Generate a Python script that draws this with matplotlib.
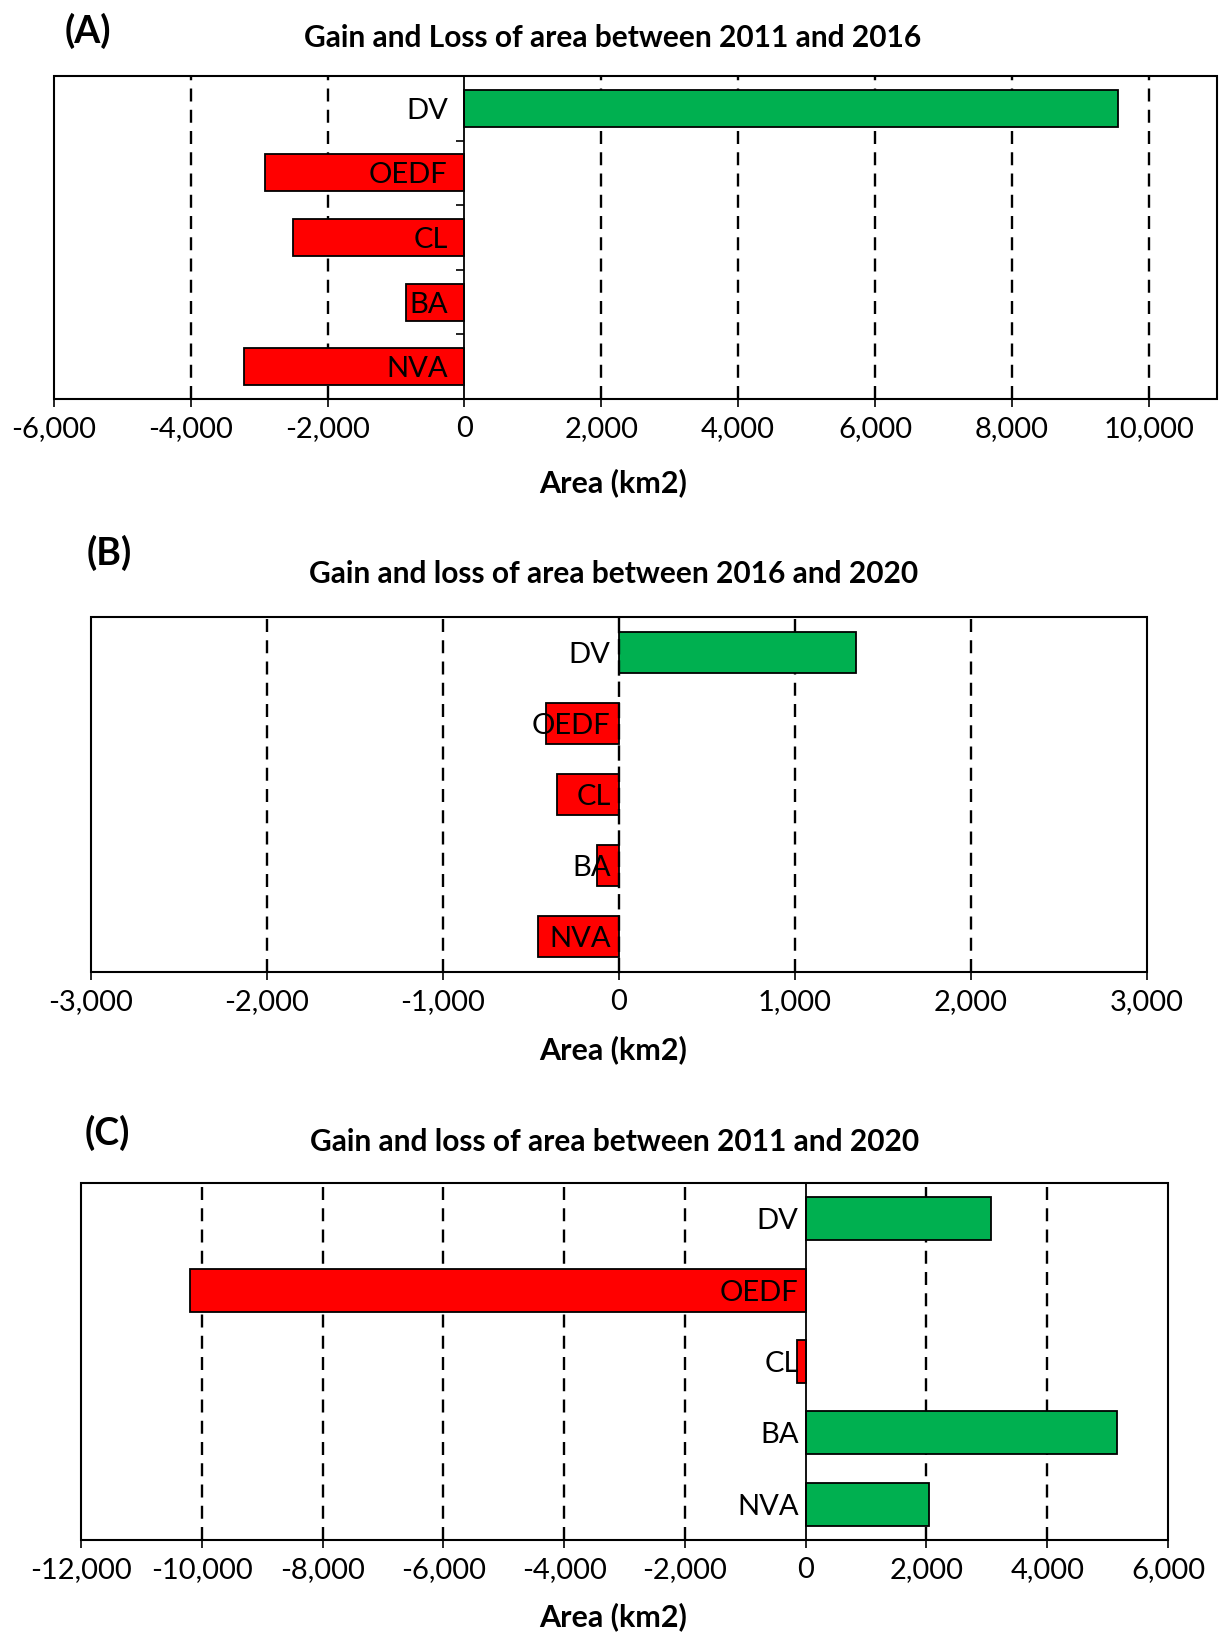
import matplotlib
matplotlib.use("Agg")
import matplotlib.pyplot as plt
from matplotlib.ticker import FuncFormatter, FixedLocator
from matplotlib.patches import Rectangle

plt.rcParams["font.family"] = ["Lato", "DejaVu Sans"]

categories = ["DV", "OEDF", "CL", "BA", "NVA"]

change_2011_2016 = [9560, -2910, -2500, -850, -3230]
change_2016_2020 = [1345, -414, -355, -124, -460]
change_2011_2020 = [3070, -10190, -140, 5160, 2050]

ticks_a = [-6000, -4000, -2000, 0, 2000, 4000, 6000, 8000, 10000]
ticks_b = [-3000, -2000, -1000, 0, 1000, 2000, 3000]
ticks_c = [-12000, -10000, -8000, -6000, -4000, -2000, 0, 2000, 4000, 6000]

GAIN = "#00B050"
LOSS = "#FF0000"
DASH = (0, (5.5, 3.5))

W, H = 1221, 1635
fig = plt.figure(figsize=(W / 100, H / 100), dpi=100)


def px_axes(left, top, right, bottom):
    return fig.add_axes([left / W, 1 - bottom / H, (right - left) / W, (bottom - top) / H])


def panel(ax, values, ticks, xlim, bar_h, label_pad, tick_marks, fs, dashed_zero=False):
    y = list(range(len(categories)))
    colors = [GAIN if v > 0 else LOSS for v in values]
    ax.barh(y, values, height=bar_h, color=colors, edgecolor="black",
            linewidth=1.3, zorder=3)
    ax.set_xlim(*xlim)
    ax.set_ylim(len(categories) - 0.5, -0.5)

    # dashed vertical grid at every major tick
    for t in ticks:
        if xlim[0] < t < xlim[1] and t != 0:
            ax.axvline(t, color="black", lw=1.7, ls=DASH, zorder=1)

    ax.xaxis.set_major_locator(FixedLocator(ticks))
    ax.xaxis.set_major_formatter(FuncFormatter(lambda v, p: f"{v:,.0f}"))
    ax.tick_params(axis="x", length=6, width=1.2, labelsize=fs, pad=6)

    # category axis sits on the zero line, labels drawn over the bars
    for s in ["left", "right", "top", "bottom"]:
        ax.spines[s].set_linewidth(1.3)
    ax.spines["left"].set_position(("data", 0))
    ax.spines["left"].set_zorder(4)
    if dashed_zero:
        ax.spines["left"].set_linestyle(DASH)
        ax.spines["left"].set_linewidth(1.7)
    ax.set_yticks(y)
    ax.set_yticklabels(categories)
    ax.tick_params(axis="y", length=0, labelsize=fs, pad=label_pad)
    if tick_marks:
        ax.set_yticks([i + 0.5 for i in range(len(categories) - 1)], minor=True)
        ax.tick_params(axis="y", which="minor", length=6, width=1.2)
    ax.yaxis.set_zorder(5)

    # outer frame of the plot area
    ax.add_patch(Rectangle((0, 0), 1, 1, transform=ax.transAxes, fill=False,
                           edgecolor="black", lw=1.5, zorder=6, clip_on=False))


ax_a = px_axes(54, 76, 1217, 399)
panel(ax_a, change_2011_2016, ticks_a, (-6000, 11000), 0.57, 12, True, 21)
ax_b = px_axes(91, 617, 1147, 972)
panel(ax_b, change_2016_2020, ticks_b, (-3000, 3000), 0.57, 6, False, 21, dashed_zero=True)
ax_c = px_axes(81, 1183, 1168, 1540)
panel(ax_c, change_2011_2020, ticks_c, (-12000, 6000), 0.6, 5, False, 21)

titles = [
    ("(A)", 65, 31, "Gain and Loss of area between 2011 and 2016", 613, 38, ax_a, 483),
    ("(B)", 87, 553, "Gain and loss of area between 2016 and 2020", 614, 574, ax_b, 1050),
    ("(C)", 85, 1133, "Gain and loss of area between 2011 and 2020", 615, 1142, ax_c, 1617),
]
for tag, tx, ty, title, cx, cy, ax, ly in titles:
    fig.text(tx / W, 1 - ty / H, tag, fontsize=27, fontweight="bold", ha="left", va="center")
    fig.text(cx / W, 1 - cy / H, title, fontsize=21.5, fontweight="bold", ha="center", va="center")
    fig.text(613 / W, 1 - ly / H, "Area (km2)", fontsize=22, fontweight="bold",
             ha="center", va="center")

fig.savefig("out.png", dpi=100)
